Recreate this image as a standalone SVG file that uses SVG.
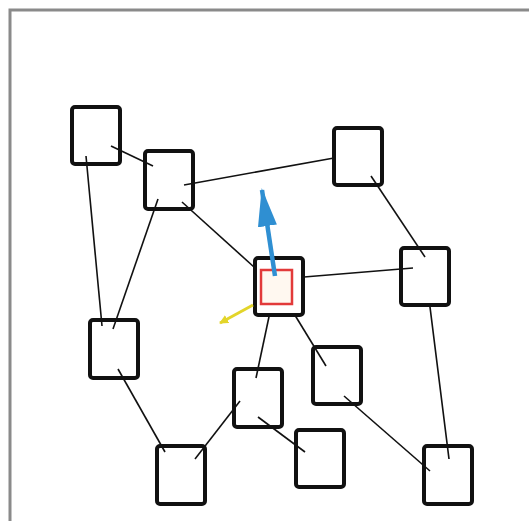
<svg xmlns="http://www.w3.org/2000/svg" width="529" height="521" viewBox="0 0 529 521">
<defs>
<style>
.n{fill:none;stroke:#111;stroke-width:4;}
.e{stroke:#111;stroke-width:1.6;fill:none;}
</style>
<marker id="ab" viewBox="0 0 20 10" refX="19" refY="5" markerWidth="8.5" markerHeight="4.5" orient="auto" markerUnits="strokeWidth"><path d="M0,0 L20,5 L0,10 z" fill="#2f8fd2"/></marker>
<marker id="ay" viewBox="0 0 10 10" refX="9" refY="5" markerWidth="3" markerHeight="3" orient="auto" markerUnits="strokeWidth"><path d="M0,0 L10,5 L0,10 z" fill="#e3d52a"/></marker>
</defs>
<rect x="0" y="0" width="529" height="521" fill="#fff"/>
<path d="M10,521 V10 H529" fill="none" stroke="#8a8a8a" stroke-width="3"/>
<g id="connectors">
<line class="e" x1="111" y1="146" x2="153" y2="166"/>
<line class="e" x1="86" y1="156" x2="102" y2="326"/>
<line class="e" x1="158" y1="199" x2="113" y2="329"/>
<line class="e" x1="184" y1="185" x2="334" y2="158"/>
<line class="e" x1="182" y1="202" x2="254" y2="267"/>
<line class="e" x1="371" y1="176" x2="425" y2="257"/>
<line class="e" x1="304" y1="277" x2="413" y2="268"/>
<line class="e" x1="430" y1="307" x2="449" y2="459"/>
<line class="e" x1="270" y1="312" x2="256" y2="378"/>
<line class="e" x1="293" y1="312" x2="326" y2="366"/>
<line class="e" x1="118" y1="369" x2="165" y2="452"/>
<line class="e" x1="240" y1="401" x2="195" y2="459"/>
<line class="e" x1="258" y1="417" x2="305" y2="452"/>
<line class="e" x1="344" y1="396" x2="430" y2="471"/>
</g>
<g id="n1"><rect class="n" x="72" y="107" width="48" height="57" rx="3"/></g>
<g id="n2"><rect class="n" x="145" y="151" width="48" height="58" rx="3"/></g>
<g id="n3"><rect class="n" x="334" y="128" width="48" height="57" rx="3"/></g>
<g id="n4"><rect x="255" y="258" width="48" height="57" rx="3" fill="#fff" stroke="#111" stroke-width="4"/><rect x="261" y="270" width="31" height="34" fill="#fff8f0" stroke="#e23a3a" stroke-width="2.5"/></g>
<g id="n5"><rect class="n" x="401" y="248" width="48" height="57" rx="3"/></g>
<g id="n6"><rect class="n" x="90" y="320" width="48" height="58" rx="3"/></g>
<g id="n7"><rect class="n" x="234" y="369" width="48" height="58" rx="3"/></g>
<g id="n8"><rect class="n" x="313" y="347" width="48" height="57" rx="3"/></g>
<g id="n9"><rect class="n" x="157" y="446" width="48" height="58" rx="3"/></g>
<g id="n10"><rect class="n" x="296" y="430" width="48" height="57" rx="3"/></g>
<g id="n11"><rect class="n" x="424" y="446" width="48" height="58" rx="3"/></g>
<g id="arrows">
<line x1="275" y1="276" x2="262" y2="190" stroke="#2f8fd2" stroke-width="4.5" marker-end="url(#ab)"/>
<line x1="253" y1="305" x2="220" y2="323" stroke="#e3d52a" stroke-width="3" marker-end="url(#ay)"/>
</g>
</svg>
